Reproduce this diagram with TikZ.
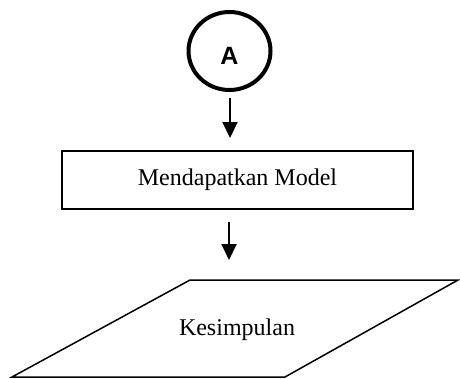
\documentclass[tikz,border=0pt]{standalone}
\usepackage{fontspec}
\setmainfont{Liberation Serif}
\newfontfamily\arialfont{Liberation Sans}
\usetikzlibrary{arrows.meta,shapes.geometric}
\begin{document}
\begin{tikzpicture}[x=1pt,y=-1pt,
  conn/.style={line width=2pt,-{Triangle[length=16pt,width=15pt]}},
  procbox/.style={draw,line width=1.5pt,minimum width=351pt,minimum height=58pt,font=\fontsize{24}{28}\selectfont},
  txt/.style={font=\fontsize{24}{28}\selectfont}]
\useasboundingbox (0,0) rectangle (460,378);
\node[draw,ellipse,line width=4pt,minimum width=82pt,minimum height=78pt] (a) at (229.5,51) {};
\node[font=\arialfont\bfseries\fontsize{25}{28}\selectfont] (alab) at (229.5,56) {A};
\coordinate (a1s) at (230,98);
\coordinate (a1e) at (230,138);
\draw[conn] (a1s) -- (a1e);
\node[procbox] (m) at (237.5,180) {Mendapatkan Model};
\coordinate (a2s) at (229,222);
\coordinate (a2e) at (229,260);
\draw[conn] (a2s) -- (a2e);
\coordinate (p1) at (190,280);
\coordinate (p2) at (458,280);
\coordinate (p3) at (285,377);
\coordinate (p4) at (12,377);
\draw[line width=1.5pt,line join=miter] (p1) -- (p2) -- (p3) -- (p4) -- cycle;
\node[txt] (k) at (237,330) {Kesimpulan};
\end{tikzpicture}
\end{document}
